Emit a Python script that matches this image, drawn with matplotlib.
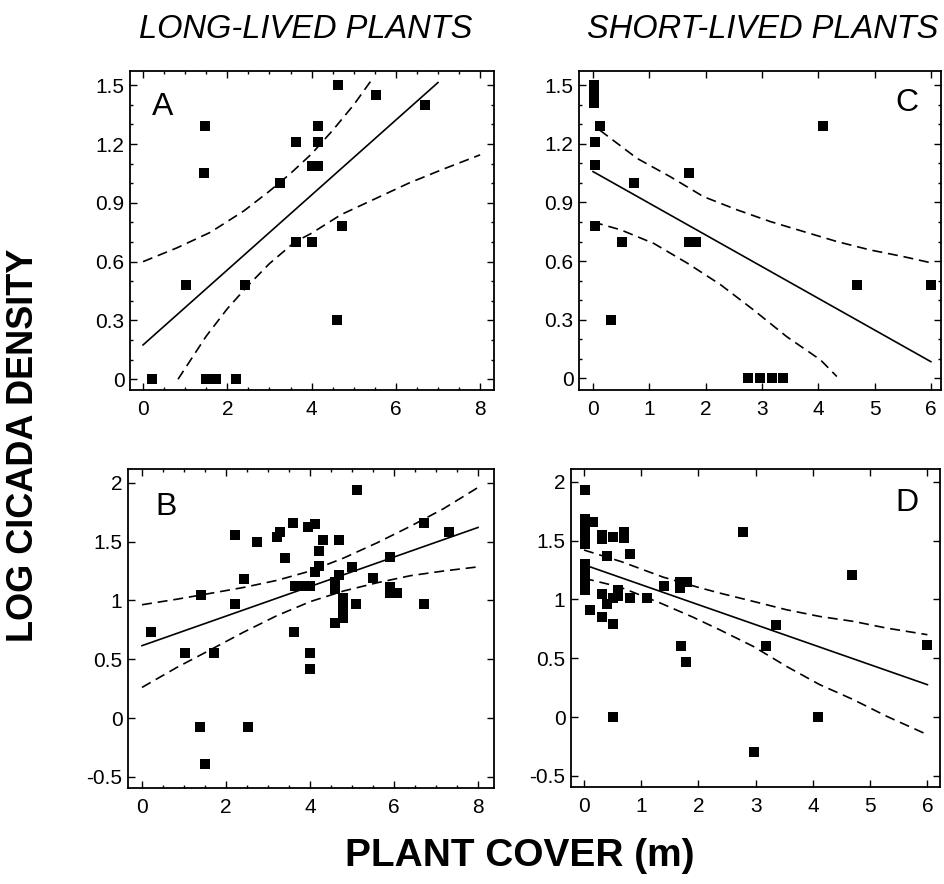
import matplotlib
matplotlib.use("Agg")
import matplotlib.pyplot as plt
from matplotlib.ticker import MultipleLocator, FuncFormatter, NullLocator

plt.rcParams['font.family'] = ['Liberation Sans', 'DejaVu Sans']
plt.rcParams['axes.unicode_minus'] = False

# ---------------- data ----------------
titles = ["LONG-LIVED PLANTS", "SHORT-LIVED PLANTS"]
y_label = "LOG CICADA DENSITY"
x_label = "PLANT COVER (m)"

# Panel A: long-lived, 
a_x = [0.22, 1.46, 1.45, 1.03, 1.50, 1.60, 1.72, 2.21, 2.43, 3.24, 3.64, 3.64,
       4.02, 4.15, 4.15, 4.15, 4.02, 4.62, 4.60, 4.73, 5.52, 6.70]
a_y = [0.0, 1.29, 1.05, 0.48, 0.0, 0.0, 0.0, 0.0, 0.48, 1.0, 1.21, 0.70,
       1.09, 1.09, 1.21, 1.29, 0.70, 1.50, 0.30, 0.78, 1.45, 1.40]
a_fit_x = [0.0, 7.0]
a_fit_y = [0.175, 1.514]
a_up_x = [0.0, 0.8, 1.6, 2.4, 3.0, 3.5, 4.0, 4.5, 5.0, 5.4]
a_up_y = [0.60, 0.67, 0.75, 0.86, 0.96, 1.05, 1.15, 1.27, 1.40, 1.52]
a_lo_x = [0.83, 1.5, 2.0, 2.5, 3.0, 3.6, 4.0, 4.7, 5.5, 6.3, 7.1, 8.0]
a_lo_y = [0.0, 0.22, 0.36, 0.48, 0.59, 0.70, 0.745, 0.84, 0.92, 1.0, 1.07, 1.145]

# Panel B: long-lived
b_x = [0.21, 1.02, 1.72, 1.40, 1.39, 1.51, 2.22, 2.22, 2.42, 2.74, 2.52, 3.21,
       3.29, 3.40, 3.60, 3.61, 3.64, 3.75, 4.00, 4.01, 4.01, 3.95, 4.12, 4.12,
       4.21, 4.21, 4.31, 4.60, 4.60, 4.60, 4.69, 4.69, 4.79, 4.79, 4.79, 4.79,
       5.00, 5.12, 5.10, 5.50, 5.90, 5.90, 5.90, 6.07, 6.71, 6.71, 7.30]
b_y = [0.73, 0.55, 0.55, 1.05, -0.08, -0.39, 1.56, 0.97, 1.18, 1.50, -0.08, 1.54,
       1.58, 1.36, 1.66, 0.73, 1.12, 1.12, 1.12, 0.55, 0.42, 1.62, 1.65, 1.24,
       1.29, 1.42, 1.51, 1.16, 1.10, 0.81, 1.22, 1.51, 1.02, 0.96, 0.90, 0.85,
       1.28, 1.94, 0.97, 1.19, 1.37, 1.11, 1.06, 1.06, 1.66, 0.97, 1.58]
b_fit_x = [0.0, 8.0]
b_fit_y = [0.615, 1.62]
b_up_x = [0.0, 0.83, 1.63, 2.42, 3.21, 4.01, 4.80, 5.60, 6.39, 7.18, 8.0]
b_up_y = [0.963, 1.01, 1.06, 1.11, 1.17, 1.25, 1.36, 1.49, 1.63, 1.78, 1.96]
b_lo_x = [0.0, 0.83, 1.63, 2.42, 3.21, 4.01, 4.80, 5.60, 6.39, 7.18, 8.0]
b_lo_y = [0.26, 0.43, 0.58, 0.73, 0.87, 0.99, 1.08, 1.15, 1.21, 1.25, 1.285]

# Panel C: short-lived
c_x = [0.02, 0.02, 0.02, 0.02, 0.13, 0.03, 0.03, 0.03, 0.31, 0.51, 0.72, 1.70,
       1.70, 1.82, 2.76, 2.97, 3.18, 3.37, 4.08, 4.69, 6.00]
c_y = [1.50, 1.47, 1.44, 1.41, 1.29, 1.21, 1.09, 0.78, 0.30, 0.70, 1.00, 1.05,
       0.70, 0.70, 0.0, 0.0, 0.0, 0.0, 1.29, 0.48, 0.48]
c_fit_x = [0.0, 6.0]
c_fit_y = [1.058, 0.085]
c_up_x = [0.12, 0.78, 1.37, 1.96, 2.56, 3.15, 3.74, 4.33, 4.92, 5.51, 5.99]
c_up_y = [1.27, 1.126, 1.032, 0.93, 0.862, 0.802, 0.751, 0.70, 0.657, 0.623, 0.592]
c_lo_x = [0.0, 0.49, 1.08, 1.67, 2.26, 2.85, 3.44, 4.04, 4.33]
c_lo_y = [0.80, 0.76, 0.69, 0.59, 0.48, 0.35, 0.213, 0.094, 0.009]

# Panel D: short-lived
d_x = [0.01, 0.02, 0.02, 0.02, 0.02, 0.02, 0.02, 0.02, 0.02, 0.16, 0.10,
       0.31, 0.31, 0.51, 0.70, 0.70, 0.40, 0.80, 0.31, 0.31, 0.51, 0.40,
       0.59, 0.59, 0.51, 0.80, 1.10, 1.40, 1.68, 1.80, 1.68, 0.50, 1.69,
       1.78, 2.78, 2.97, 3.18, 3.36, 4.08, 4.68, 6.00]
d_y = [1.93, 1.68, 1.61, 1.54, 1.47, 1.30, 1.22, 1.15, 1.08, 1.66, 0.91,
       1.55, 1.51, 1.53, 1.57, 1.52, 1.37, 1.39, 1.05, 0.85, 0.79, 0.96,
       1.08, 1.03, 1.01, 1.01, 1.01, 1.11, 1.15, 1.15, 1.10, 0.0, 0.60,
       0.47, 1.57, -0.30, 0.60, 0.78, 0.0, 1.21, 0.61]
d_fit_x = [0.0, 6.0]
d_fit_y = [1.295, 0.275]
d_up_x = [0.0, 0.66, 1.38, 1.98, 2.37, 2.96, 3.54, 4.12, 4.71, 5.29, 6.0]
d_up_y = [1.42, 1.32, 1.19, 1.105, 1.054, 0.983, 0.912, 0.855, 0.813, 0.756, 0.70]
d_lo_x = [0.0, 0.63, 1.33, 1.90, 2.37, 2.96, 3.54, 4.12, 4.71, 5.29, 6.0]
d_lo_y = [1.18, 1.105, 0.97, 0.85, 0.742, 0.60, 0.43, 0.275, 0.147, 0.006, -0.15]

panels = [
    dict(label="A", x=a_x, y=a_y, fx=a_fit_x, fy=a_fit_y, ux=a_up_x, uy=a_up_y, lx=a_lo_x, ly=a_lo_y,
         pos=[130/944, 1-390/884, 364/944, 319/884], xlim=(-0.31, 8.33), ylim=(-0.055, 1.573),
         xmaj=2, xmin=0.5, ymaj=0.3, ymin=0.1, lab=(0.09, 0.887)),
    dict(label="C", x=c_x, y=c_y, fx=c_fit_x, fy=c_fit_y, ux=c_up_x, uy=c_up_y, lx=c_lo_x, ly=c_lo_y,
         pos=[579/944, 1-390/884, 362/944, 319/884], xlim=(-0.25, 6.18), ylim=(-0.06, 1.573),
         xmaj=1, xmin=None, ymaj=0.3, ymin=0.1, lab=(0.906, 0.90)),
    dict(label="B", x=b_x, y=b_y, fx=b_fit_x, fy=b_fit_y, ux=b_up_x, uy=b_up_y, lx=b_lo_x, ly=b_lo_y,
         pos=[128/944, 1-788/884, 366/944, 319/884], xlim=(-0.333, 8.38), ylim=(-0.595, 2.117),
         xmaj=2, xmin=0.5, ymaj=0.5, ymin=None, lab=(0.104, 0.881)),
    dict(label="D", x=d_x, y=d_y, fx=d_fit_x, fy=d_fit_y, ux=d_up_x, uy=d_up_y, lx=d_lo_x, ly=d_lo_y,
         pos=[571/944, 1-787/884, 369/944, 318/884], xlim=(-0.227, 6.22), ylim=(-0.595, 2.109),
         xmaj=1, xmin=None, ymaj=0.5, ymin=None, lab=(0.911, 0.893)),
]


def fmt(v, p):
    if abs(v) < 1e-9:
        return "0"
    s = "%.1f" % v
    if s.endswith(".0"):
        s = s[:-2]
    return s


fig = plt.figure(figsize=(9.44, 8.84), dpi=100)
fig.patch.set_facecolor("white")

for p in panels:
    ax = fig.add_axes(p["pos"])
    ax.plot(p["x"], p["y"], linestyle="none", marker="s", markersize=7,
            color="black", markeredgewidth=0, clip_on=False)
    ax.plot(p["fx"], p["fy"], color="black", lw=1.2)
    ax.plot(p["ux"], p["uy"], color="black", lw=1.2, linestyle=(0, (6, 3.5)))
    ax.plot(p["lx"], p["ly"], color="black", lw=1.2, linestyle=(0, (6, 3.5)))
    ax.set_xlim(*p["xlim"])
    ax.set_ylim(*p["ylim"])
    ax.xaxis.set_major_locator(MultipleLocator(p["xmaj"]))
    ax.yaxis.set_major_locator(MultipleLocator(p["ymaj"]))
    if p["xmin"]:
        ax.xaxis.set_minor_locator(MultipleLocator(p["xmin"]))
    else:
        ax.xaxis.set_minor_locator(NullLocator())
    if p["ymin"]:
        ax.yaxis.set_minor_locator(MultipleLocator(p["ymin"]))
    else:
        ax.yaxis.set_minor_locator(NullLocator())
    ax.xaxis.set_major_formatter(FuncFormatter(fmt))
    ax.yaxis.set_major_formatter(FuncFormatter(fmt))
    ax.tick_params(which="both", direction="in", top=True, right=True, width=1.0,
                   labelsize=15, colors="black")
    ax.tick_params(which="major", length=5)
    ax.tick_params(which="minor", length=2.5)
    ax.tick_params(axis="x", pad=7)
    ax.tick_params(axis="y", pad=4)
    for s in ax.spines.values():
        s.set_linewidth(1.3)
    ax.text(p["lab"][0], p["lab"][1], p["label"], transform=ax.transAxes,
            fontsize=23, ha="center", va="center")

fig.text(306/944, 1-29/884, titles[0], fontsize=23.5, style="italic",
         ha="center", va="center")
fig.text(763/944, 1-29/884, titles[1], fontsize=23.5, style="italic",
         ha="center", va="center")
fig.text(24/944, 1-445/884, y_label, fontsize=26, fontweight="bold",
         rotation=90, ha="center", va="center")
fig.text(520/944, 1-856/884, x_label, fontsize=28, fontweight="bold",
         ha="center", va="center")

fig.savefig("out.png", dpi=100, facecolor="white")
